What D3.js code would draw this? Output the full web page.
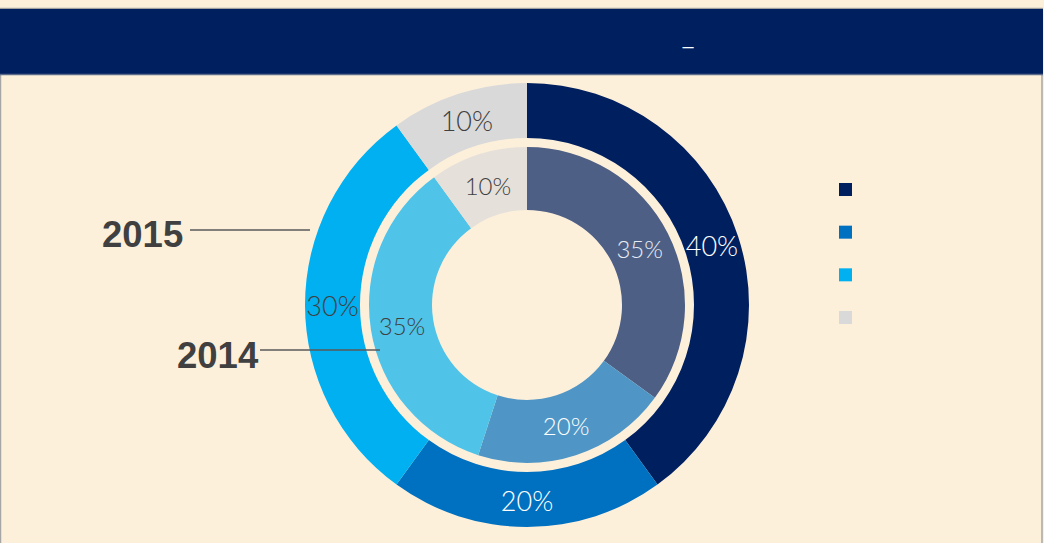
<!DOCTYPE html>
<html><head><meta charset="utf-8">
<script src="https://cdn.jsdelivr.net/npm/d3@7"></script>
<style>html,body{margin:0;padding:0;background:#fdf0db;}svg{display:block;}</style>
</head><body>
<svg id="c" width="1044" height="543"></svg>
<script>
const categories = ["A", "B", "C", "D"];
const values2015 = [40, 20, 30, 10];
const values2014 = [35, 20, 35, 10];
const colors2015 = ["#001f5f", "#0070c0", "#00b0f0", "#d9d9d9"];
const colors2014 = ["#4d5f85", "#4f96c6", "#4fc3e8", "#e5e0da"];
const labelColors2015 = ["#ffffff", "#ffffff", "#404040", "#404040"];
const labelColors2014 = ["#e8ecf2", "#ffffff", "#404040", "#404040"];
const seriesNames = ["2015", "2014"];
const titleText = "–";

const svg = d3.select("#c");
const W = 1044, H = 543;
svg.append("rect").attr("x",0).attr("y",0).attr("width",W).attr("height",H).attr("fill","#fdf0db");
// frame
svg.append("rect").attr("x",0.5).attr("y",8.5).attr("width",1041.5).attr("height",540).attr("fill","none").attr("stroke","#a6a6a6").attr("stroke-width",1.5);
// header
svg.append("rect").attr("x",0).attr("y",8).attr("width",1043).attr("height",67).attr("fill","#001f5f");
svg.append("line").attr("x1",0).attr("x2",1043).attr("y1",8.5).attr("y2",8.5).attr("stroke","#a0a0a0").attr("stroke-width",1);
svg.append("line").attr("x1",0).attr("x2",1043).attr("y1",74.5).attr("y2",74.5).attr("stroke","#5a6a88").attr("stroke-width",1.5);
svg.append("text").attr("x",688).attr("y",53).attr("text-anchor","middle").attr("fill","#ffffff")
  .attr("font-family","Liberation Sans, Arial, sans-serif").attr("font-size",20).text(titleText);

const cx = 527, cy = 305;
const pie = d3.pie().sort(null).value(d => d);
const rings = [
  {vals: values2015, cols: colors2015, lc: labelColors2015, r0: 167, r1: 222, fs: 27},
  {vals: values2014, cols: colors2014, lc: labelColors2014, r0: 95, r1: 158, fs: 24}
];
const g = svg.append("g").attr("transform", `translate(${cx},${cy})`);
rings.forEach(ring => {
  const arc = d3.arc().innerRadius(ring.r0).outerRadius(ring.r1);
  const arcs = pie(ring.vals);
  g.append("g").selectAll("path").data(arcs).join("path")
    .attr("d", arc).attr("fill", (d,i) => ring.cols[i]);
  g.append("g").selectAll("text").data(arcs).join("text")
    .attr("transform", d => `translate(${arc.centroid(d)})`)
    .attr("text-anchor","middle").attr("dy","0.42em")
    .attr("font-family","Lato, sans-serif").attr("font-weight",300)
    .attr("font-size", ring.fs)
    .attr("fill", (d,i) => ring.lc[i])
    .text(d => d.data + "%");
});

// series labels
const labelFont = "Liberation Sans, Arial, sans-serif";
svg.append("text").attr("x",102).attr("y",247).attr("font-family",labelFont).attr("font-weight","bold")
  .attr("font-size",36.5).attr("fill","#404040").text(seriesNames[0]);
svg.append("line").attr("x1",190).attr("x2",310).attr("y1",230).attr("y2",230).attr("stroke","#595959").attr("stroke-width",1.5);
svg.append("text").attr("x",177).attr("y",368).attr("font-family",labelFont).attr("font-weight","bold")
  .attr("font-size",36.5).attr("fill","#404040").text(seriesNames[1]);
svg.append("line").attr("x1",260).attr("x2",380).attr("y1",350).attr("y2",350).attr("stroke","#595959").attr("stroke-width",1.5);

// legend (swatches only)
const ly = d3.scalePoint().domain(categories).range([183, 311]);
svg.append("g").selectAll("rect").data(categories).join("rect")
  .attr("x",839).attr("y", d => ly(d)).attr("width",13).attr("height",13)
  .attr("fill", (d,i) => colors2015[i]);
</script>
</body></html>
